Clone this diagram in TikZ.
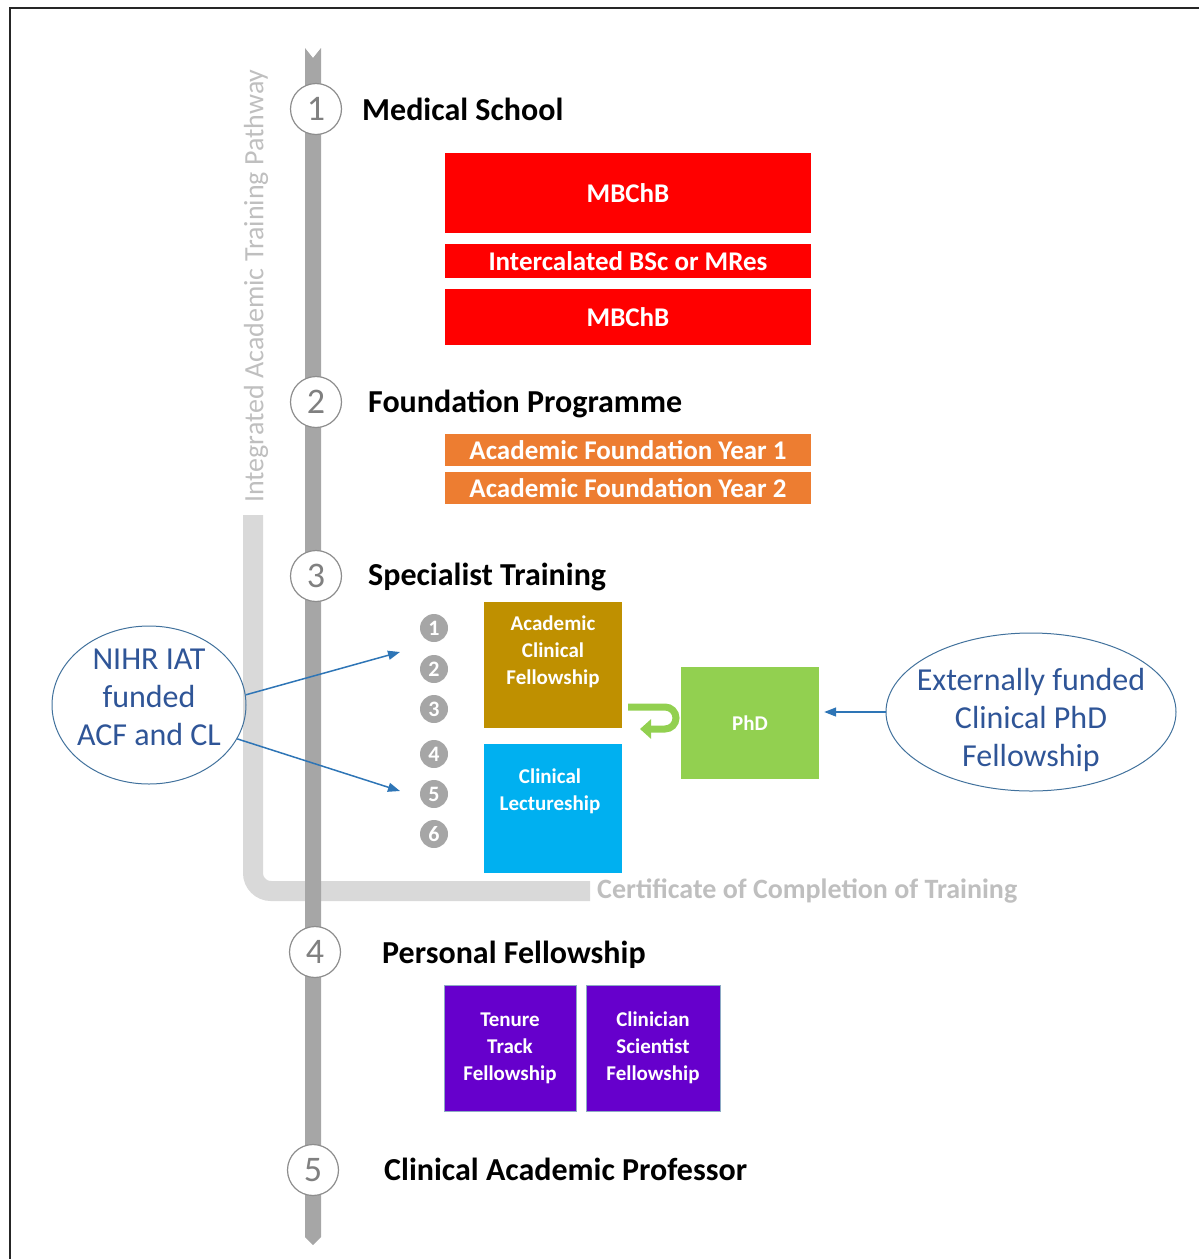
\documentclass[tikz,border=0pt]{standalone}
\usepackage{fontspec}
\setmainfont{Carlito}
\usetikzlibrary{arrows.meta,shapes.geometric}

\definecolor{schoolRed}{HTML}{FF0000}
\definecolor{foundOrange}{HTML}{ED7D31}
\definecolor{acfGold}{HTML}{BF9000}
\definecolor{clBlue}{HTML}{00B0F0}
\definecolor{phdGreen}{HTML}{92D050}
\definecolor{fellowViolet}{HTML}{6600CC}
\definecolor{railGrey}{HTML}{A6A6A6}
\definecolor{bandGrey}{HTML}{D9D9D9}
\definecolor{paleGrey}{HTML}{BFBFBF}
\definecolor{fundBlue}{HTML}{41719C}
\definecolor{fundText}{HTML}{2F5597}
\definecolor{linkBlue}{HTML}{2E75B6}

\begin{document}
\begin{tikzpicture}[x=1pt, y=-1pt,
        stage/.style={circle, draw=railGrey!85!black, line width=1.2pt, fill=white,
            minimum size=51pt, inner sep=0pt, text=black!50,
            font=\fontsize{36}{36}\selectfont},
        heading/.style={anchor=base west, inner sep=0pt,
            font=\fontsize{32}{38}\selectfont\bfseries},
        block/.style={rectangle, inner sep=0pt, text=white,
            font=\fontsize{27}{32}\selectfont\bfseries},
        post/.style={rectangle, inner sep=0pt},
        posttext/.style={text=white, align=center, inner sep=0pt,
            font=\fontsize{21}{27}\selectfont\bfseries},
        year/.style={circle, fill=railGrey, minimum size=28pt, inner sep=0pt,
            text=white, font=\fontsize{22}{22}\selectfont\bfseries},
        funder/.style={ellipse, draw=fundBlue, line width=1pt, inner sep=0pt},
        fundtext/.style={text=fundText, align=center, inner sep=0pt,
            font=\fontsize{32}{38}\selectfont},
        link/.style={draw=linkBlue, line width=1.5pt,
            -{Triangle[length=12pt,width=9pt]}},
    ]

    \useasboundingbox (0,0) rectangle (1199,1259);

    % frame
    \draw[line width=2pt, black!85] (10,1259) -- (10,8) -- (1199,8);

    % integrated pathway band
    \draw[bandGrey, line width=20pt, rounded corners=18pt] (253,515) -- (253,891) -- (590,891);
    \node[rotate=90, anchor=west, inner sep=0pt, text=paleGrey,
        font=\fontsize{28}{28}\selectfont] (iat) at (256,503) {Integrated Academic Training Pathway};
    \node[anchor=west, inner sep=0pt, text=paleGrey,
        font=\fontsize{28}{28}\selectfont\bfseries] (cct) at (597,891) {Certificate of Completion of Training};

    % timeline
    \fill[railGrey] (305,48) -- (313,58) -- (321,48) -- (321,1237) -- (313,1245) -- (305,1237) -- cycle;
    \foreach \n/\x/\y in {1/316/109, 2/316/402, 3/316/576, 4/315/952, 5/313/1170}
        \node[stage] (stage\n) at (\x,\y) {\n};

    \node[heading] (medschool) at (362,120) {Medical School};
    \node[heading] (foundation) at (368,412) {Foundation Programme};
    \node[heading] (specialist) at (368,585) {Specialist Training};
    \node[heading] (personal) at (382,963) {Personal Fellowship};
    \node[heading] (professor) at (384,1180) {Clinical Academic Professor};

    % medical school
    \node[block, fill=schoolRed, minimum width=366pt, minimum height=80pt] (mbchbA) at (628,193) {MBChB};
    \node[block, fill=schoolRed, minimum width=366pt, minimum height=34pt] (bsc) at (628,261) {Intercalated BSc or MRes};
    \node[block, fill=schoolRed, minimum width=366pt, minimum height=56pt] (mbchbB) at (628,317) {MBChB};

    % foundation programme
    \node[block, fill=foundOrange, minimum width=366pt, minimum height=32pt] (afyA) at (628,450) {Academic Foundation Year 1};
    \node[block, fill=foundOrange, minimum width=366pt, minimum height=32pt] (afyB) at (628,488) {Academic Foundation Year 2};

    % specialist training
    \foreach \n/\y in {1/628, 2/669, 3/709, 4/754, 5/794, 6/834}
        \node[year] (year\n) at (434,\y) {\n};
    \node[post, fill=acfGold, minimum width=138pt, minimum height=126pt] (acf) at (553,665) {};
    \node[posttext] (acflabel) at (553,652) {Academic\\Clinical\\Fellowship};
    \node[post, fill=clBlue, minimum width=138pt, minimum height=129pt] (cl) at (553,808.5) {};
    \node[posttext] (cllabel) at (550,791) {Clinical\\Lectureship};
    \node[post, posttext, fill=phdGreen, minimum width=138pt, minimum height=112pt] (phd) at (750,723) {PhD};
    \draw[phdGreen, line width=7pt, -{Triangle[length=11pt,width=19pt]}]
        ([xshift=6pt]acf.east |- 0,707) -- (665,707) arc (-90:90:11) -- (640,729);

    % funding
    \node[funder, minimum width=194pt, minimum height=158pt] (nihr) at (149,705) {};
    \node[fundtext] (nihrtext) at (149,697) {NIHR IAT\\funded\\ACF and CL};
    \node[funder, minimum width=290pt, minimum height=158pt] (ext) at (1031,712) {};
    \node[fundtext] (exttext) at (1031,720) {Externally funded\\Clinical PhD\\Fellowship};
    \coordinate (acfpoint) at (400,652);
    \coordinate (clpoint) at (400,791);
    \draw[link] (nihr.6) -- (acfpoint);
    \draw[link] (nihr.-21) -- (clpoint);
    \draw[link, shorten >=5pt] (ext.west) -- (ext.west -| phd.east);

    % personal fellowship
    \node[post, posttext, fill=fellowViolet, draw=fundBlue!60, minimum width=132pt, minimum height=126pt] (tenure) at (510,1048) {Tenure\\Track\\Fellowship};
    \node[post, posttext, fill=fellowViolet, draw=fundBlue!60, minimum width=134pt, minimum height=126pt] (scientist) at (653,1048) {Clinician\\Scientist\\Fellowship};

\end{tikzpicture}
\end{document}
